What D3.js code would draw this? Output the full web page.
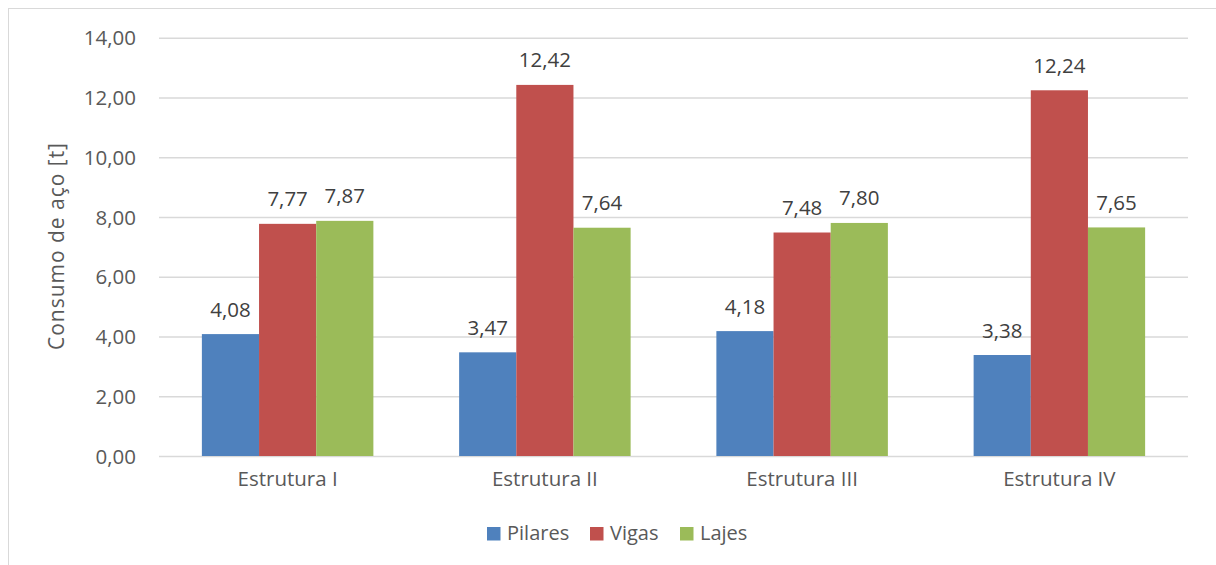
<!DOCTYPE html>
<html>
<head>
<meta charset="utf-8">
<script src="https://cdn.jsdelivr.net/npm/d3@7"></script>
<style>
  html, body { margin: 0; padding: 0; background: #fff; }
  svg { display: block; font-family: "Open Sans", "Liberation Sans", sans-serif; }
</style>
</head>
<body>
<svg id="chart" width="1216" height="565"></svg>
<script>
// Steel consumption per structure, by element type
const categories = ["Estrutura I", "Estrutura II", "Estrutura III", "Estrutura IV"];
const seriesNames = ["Pilares", "Vigas", "Lajes"];
const pilares = [4.08, 3.47, 4.18, 3.38];
const vigas   = [7.77, 12.42, 7.48, 12.24];
const lajes   = [7.87, 7.64, 7.80, 7.65];
const seriesColors = ["#4F81BD", "#C0504D", "#9BBB59"];
const yTicks = [0, 2, 4, 6, 8, 10, 12, 14];
const yTitle = "Consumo de aço [t]";

const seriesValues = [pilares, vigas, lajes];
const rows = categories.map((c, i) => ({
  category: c,
  values: seriesNames.map((s, j) => ({ series: s, value: seriesValues[j][i], color: seriesColors[j] }))
}));

const fmt = v => v.toFixed(2).replace(".", ",");

const svg = d3.select("#chart");

// outer chart frame
svg.append("rect")
  .attr("x", 8.5).attr("y", 8.5)
  .attr("width", 1230).attr("height", 580)
  .attr("fill", "none").attr("stroke", "#d9d9d9").attr("stroke-width", 1);

const plot = { left: 159, right: 1188, top: 37.7, bottom: 456 };

const y = d3.scaleLinear().domain([0, 14]).range([plot.bottom, plot.top]);

// gap width 150% between category groups
const x0 = d3.scaleBand()
  .domain(categories)
  .range([plot.left, plot.right])
  .paddingInner(1.5 / 4.5)
  .paddingOuter(0.75 / 4.5);

const x1 = d3.scaleBand()
  .domain(seriesNames)
  .range([0, x0.bandwidth()])
  .padding(0);

// horizontal gridlines
const yAxis = d3.axisLeft(y)
  .tickValues(yTicks)
  .tickSize(-(plot.right - plot.left))
  .tickFormat(fmt)
  .tickPadding(23);

const gy = svg.append("g")
  .attr("transform", `translate(${plot.left},0)`)
  .call(yAxis);
gy.select(".domain").remove();
gy.selectAll(".tick line").attr("stroke", "#d9d9d9").attr("stroke-width", 1.5);
gy.selectAll(".tick text")
  .attr("fill", "#595959")
  .attr("font-size", "20.5px")
  .attr("font-family", "'Open Sans', sans-serif")
  .attr("dy", "0.35em");

// bars
const groups = svg.append("g")
  .selectAll("g")
  .data(rows)
  .join("g")
  .attr("transform", d => `translate(${x0(d.category)},0)`);

groups.selectAll("rect")
  .data(d => d.values)
  .join("rect")
  .attr("x", d => x1(d.series))
  .attr("y", d => y(d.value))
  .attr("width", x1.bandwidth())
  .attr("height", d => y(0) - y(d.value))
  .attr("fill", d => d.color);

// value labels above bars
groups.selectAll("text")
  .data(d => d.values)
  .join("text")
  .attr("x", d => x1(d.series) + x1.bandwidth() / 2)
  .attr("y", d => y(d.value) - 17.5)
  .attr("text-anchor", "middle")
  .attr("fill", "#404040")
  .attr("font-size", "20.5px")
  .text(d => fmt(d.value));

// category axis labels
const xAxis = d3.axisBottom(x0).tickSize(0).tickPadding(0);
const gx = svg.append("g")
  .attr("transform", `translate(0,${plot.bottom})`)
  .call(xAxis);
gx.select(".domain").remove();
gx.selectAll(".tick text")
  .attr("fill", "#595959")
  .attr("font-size", "20.5px")
  .attr("font-family", "'Open Sans', sans-serif")
  .attr("dy", null)
  .attr("y", 29.7);

// y-axis title
svg.append("text")
  .attr("transform", `translate(64,246.5) rotate(-90)`)
  .attr("text-anchor", "middle")
  .attr("fill", "#595959")
  .attr("font-size", "21px")
  .attr("textLength", 207)
  .attr("lengthAdjust", "spacing")
  .text(yTitle);

// legend
const legendX = [487, 590, 680];
const legend = svg.append("g")
  .selectAll("g")
  .data(seriesNames)
  .join("g")
  .attr("transform", (d, i) => `translate(${legendX[i]},527)`);
legend.append("rect")
  .attr("width", 13.5).attr("height", 13.5)
  .attr("fill", (d, i) => seriesColors[i]);
legend.append("text")
  .attr("x", 20).attr("y", 13.2)
  .attr("fill", "#595959")
  .attr("font-size", "20px")
  .text(d => d);
</script>
</body>
</html>
